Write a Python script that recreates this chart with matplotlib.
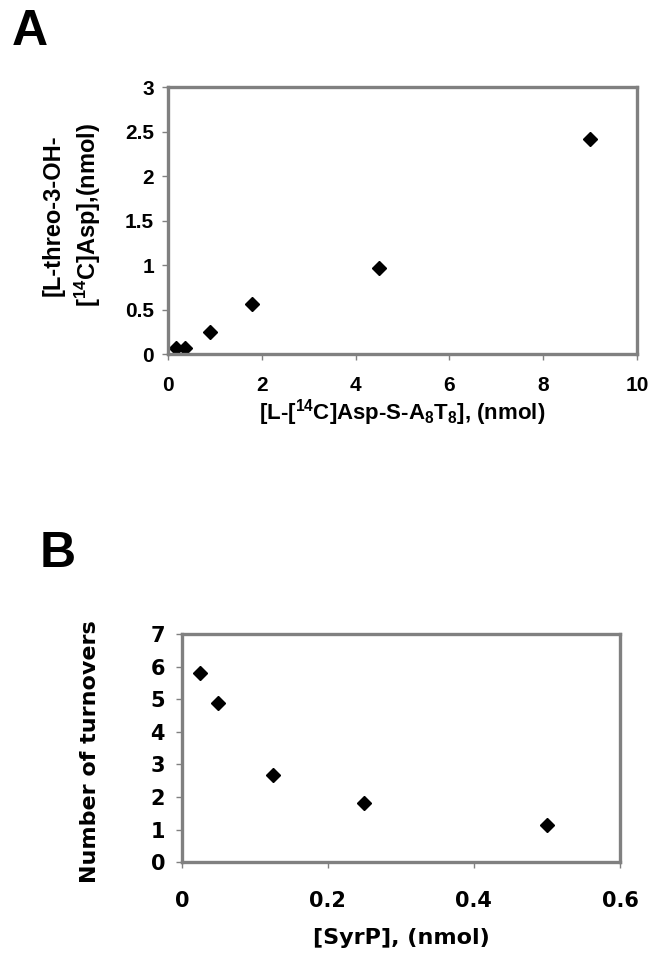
import numpy as np
import matplotlib
matplotlib.use("Agg")
import matplotlib.pyplot as plt
from matplotlib.ticker import FuncFormatter

plt.rcParams['mathtext.fontset'] = 'custom'
plt.rcParams['mathtext.rm'] = 'Liberation Sans:bold'
plt.rcParams['mathtext.it'] = 'Liberation Sans:bold'
plt.rcParams['mathtext.bf'] = 'Liberation Sans:bold'
plt.rcParams['mathtext.default'] = 'rm'

# panel A: product formed vs substrate
asp_x = [0.18, 0.36, 0.9, 1.8, 4.5, 9.0]
oh_asp_y = [0.07, 0.07, 0.25, 0.56, 0.97, 2.42]

# panel B: turnovers vs SyrP
syrp_x = [0.025, 0.05, 0.125, 0.25, 0.5]
turnovers_y = [5.8, 4.87, 2.67, 1.82, 1.15]

grey = '#808080'

fig = plt.figure(figsize=(6.61, 9.6), dpi=100)

def style(ax, font, size, xpad, ypad):
    for s in ax.spines.values():
        s.set_color(grey)
        s.set_linewidth(2.4)
    ax.tick_params(direction='out', length=4, width=1, color=grey,
                   labelsize=size, top=False, right=False)
    ax.tick_params(axis='x', pad=xpad)
    ax.tick_params(axis='y', pad=ypad)
    for lab in ax.get_xticklabels() + ax.get_yticklabels():
        lab.set_fontfamily(font)
        lab.set_fontweight('bold')

gfmt = FuncFormatter(lambda v, p: f'{v:g}')

# ---- A
axA = fig.add_axes([0.254, 0.631, 0.710, 0.278])
axA.plot(asp_x, oh_asp_y, 'D', color='black', markersize=7, clip_on=False)
axA.set_xlim(0, 10)
axA.set_ylim(0, 3)
axA.set_xticks(np.arange(0, 11, 2))
axA.set_yticks(np.arange(0, 3.01, 0.5))
axA.xaxis.set_major_formatter(gfmt)
axA.yaxis.set_major_formatter(gfmt)
style(axA, 'Liberation Sans', 15, 12, 6)
axA.set_xlabel(r'[L-[$^{14}$C]Asp-S-A$_8$T$_8$], (nmol)', fontfamily='Liberation Sans',
               fontweight='bold', fontsize=16, labelpad=1)
fig.text(72 / 661, 1 - 215 / 960, '[L-threo-3-OH-\n[$^{14}$C]Asp],(nmol)', rotation=90,
         ha='center', va='center', multialignment='center', linespacing=1.35,
         fontfamily='Liberation Sans', fontweight='bold', fontsize=17)
fig.text(30 / 661, 1 - 32 / 960, 'A', ha='center', va='center',
         fontfamily='Liberation Sans', fontweight='bold', fontsize=36)

# ---- B
axB = fig.add_axes([0.275, 0.102, 0.663, 0.2375])
axB.plot(syrp_x, turnovers_y, 'D', color='black', markersize=7, clip_on=False)
axB.set_xlim(0, 0.6)
axB.set_ylim(0, 7)
axB.set_xticks([0, 0.2, 0.4, 0.6])
axB.set_yticks(range(0, 8))
axB.xaxis.set_major_formatter(gfmt)
axB.yaxis.set_major_formatter(gfmt)
style(axB, 'DejaVu Sans', 15, 17, 8)
axB.set_xlabel('[SyrP], (nmol)', fontfamily='DejaVu Sans', fontweight='bold',
               fontsize=16, labelpad=12)
fig.text(90 / 661, 1 - 752 / 960, 'Number of turnovers', rotation=90,
         ha='center', va='center', fontfamily='DejaVu Sans', fontweight='bold',
         fontsize=16)
fig.text(58 / 661, 1 - 554 / 960, 'B', ha='center', va='center',
         fontfamily='Liberation Sans', fontweight='bold', fontsize=36)

fig.savefig('out.png', dpi=100)
